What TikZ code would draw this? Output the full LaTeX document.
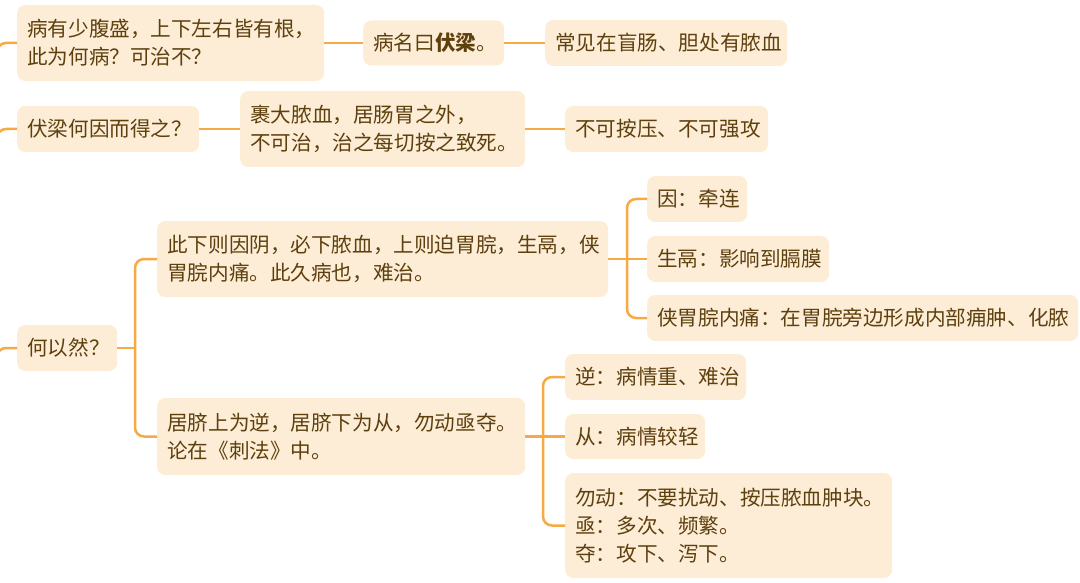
\documentclass[tikz,border=0pt]{standalone}
\usepackage{fontspec}
\setmainfont{Noto Sans CJK SC}
\definecolor{lineor}{HTML}{F6A945}
\definecolor{boxfill}{HTML}{FDEDD6}
\definecolor{txt}{HTML}{5E400E}
\begin{document}
\begin{tikzpicture}[x=1pt,y=-1pt,
  box/.style={draw=none, fill=boxfill, rounded corners=8pt, anchor=west,
    inner xsep=10pt, inner ysep=0pt, align=left, text=txt,
    font=\fontsize{20.6}{28}\selectfont},
  conn/.style={draw=lineor, line width=2.5pt},
  elbow/.style={conn, rounded corners=9pt}]
\useasboundingbox (0,0) rectangle (1080,583);
% row A
\node[box, text width=287pt, minimum height=76pt] (A1) at (17,43) {病有少腹盛，上下左右皆有根，\\此为何病？可治不？};
\node[box, text width=121pt, minimum height=45pt] (A2) at (363,43) {病名曰\textbf{伏梁}。};
\node[box, text width=222pt, minimum height=46pt] (A3) at (545,43) {常见在盲肠、胆处有脓血};
% row B
\node[box, text width=162pt, minimum height=46pt] (B1) at (17,129) {伏梁何因而得之？};
\node[box, text width=265pt, minimum height=76pt] (B2) at (240,129) {裹大脓血，居肠胃之外，\\不可治，治之每切按之致死。};
\node[box, text width=183pt, minimum height=46pt] (B3) at (565,129) {不可按压、不可强攻};
% row C
\node[box, text width=80pt, minimum height=46pt] (C1) at (17,348) {何以然？};
\node[box, text width=431pt, minimum height=76pt] (CT) at (157,259) {此下则因阴，必下脓血，上则迫胃脘，生鬲，侠\\胃脘内痛。此久病也，难治。};
\node[box, text width=348pt, minimum height=77pt] (CB) at (157,436.5) {居脐上为逆，居脐下为从，勿动亟夺。\\论在《刺法》中。};
\node[box, text width=80pt, minimum height=46pt] (Y1) at (647,199) {因：牵连};
\node[box, text width=162pt, minimum height=46pt] (Y2) at (647,259) {生鬲：影响到膈膜};
\node[box, text width=411pt, minimum height=46pt] (Y3) at (647,318) {侠胃脘内痛：在胃脘旁边形成内部痈肿、化脓};
\node[box, text width=161pt, minimum height=46pt] (N1) at (565,377) {逆：病情重、难治};
\node[box, text width=120pt, minimum height=45pt] (N2) at (565,436.5) {从：病情较轻};
\node[box, text width=307pt, minimum height=105pt] (N3) at (565,525.5) {勿动：不要扰动、按压脓血肿块。\\亟：多次、频繁。\\夺：攻下、泻下。};
% incoming stubs from the left edge
\coordinate (sA) at (-3,75);
\coordinate (sB) at (-3,160);
\coordinate (sC) at (-3,380);
\draw[elbow] (sA) |- (A1.west);
\draw[elbow] (sB) |- (B1.west);
\draw[elbow] (sC) |- (C1.west);
% straight connectors
\draw[conn] (A1.east) -- (A2.west);
\draw[conn] (A2.east) -- (A3.west);
\draw[conn] (B1.east) -- (B2.west);
\draw[conn] (B2.east) -- (B3.west);
% C branches
\draw[conn] (C1.east) -- (135,348) coordinate (tC);
\draw[elbow] (tC) |- (CT.west);
\draw[elbow] (tC) |- (CB.west);
\draw[conn] (CT.east) -- (627,259) coordinate (tT);
\draw[elbow] (tT) |- (Y1.west);
\draw[conn] (tT) -- (Y2.west);
\draw[elbow] (tT) |- (Y3.west);
\draw[conn] (CB.east) -- (543,436.5) coordinate (tB);
\draw[elbow] (tB) |- (N1.west);
\draw[conn] (tB) -- (N2.west);
\draw[elbow] (tB) |- (N3.west);
\end{tikzpicture}
\end{document}
